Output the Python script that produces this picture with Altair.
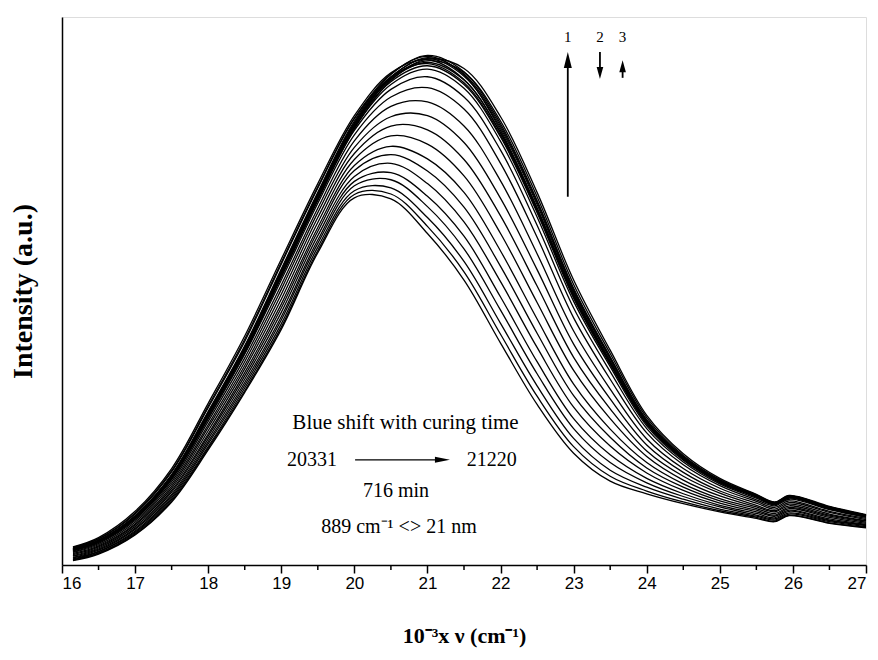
import altair as alt
import pandas as pd

# wavenumber grid (10^3 cm^-1)
x_grid = [16.15, 16.5, 17.0, 17.5, 18.0, 18.5, 19.0, 19.5, 20.0, 20.5, 21.0, 21.5,
          22.0, 22.5, 23.0, 23.5, 24.0, 24.5, 25.0, 25.5, 25.75, 25.95, 26.5, 27.0]

# emission spectra, early (low) -> late (high), intensity in a.u. (0-100)
s01 = [0.8, 2.0, 5.5, 11.5, 21.0, 31.5, 43.0, 57.0, 67.0, 66.8, 60.5, 52.0, 40.5, 29.3, 20.4, 15.3, 13.0, 11.2, 9.7, 8.5, 7.9, 9.0, 7.6, 6.8]
s02 = [0.9, 2.1, 5.6, 11.7, 21.3, 31.8, 43.4, 57.4, 67.6, 67.7, 61.8, 53.5, 42.1, 30.8, 21.6, 16.2, 13.5, 11.5, 9.9, 8.7, 8.0, 9.1, 7.7, 6.9]
s03 = [1.0, 2.2, 5.8, 12.0, 21.6, 32.3, 44.0, 58.0, 68.3, 68.8, 63.4, 55.4, 44.1, 32.7, 23.1, 17.3, 14.2, 12.0, 10.2, 8.9, 8.2, 9.3, 7.9, 7.0]
s04 = [1.1, 2.4, 6.0, 12.3, 22.1, 32.8, 44.7, 58.7, 69.2, 70.3, 65.4, 57.7, 46.5, 34.9, 24.9, 18.7, 15.0, 12.5, 10.6, 9.1, 8.4, 9.5, 8.1, 7.2]
s05 = [1.3, 2.5, 6.2, 12.6, 22.5, 33.3, 45.3, 59.3, 70.0, 71.6, 67.3, 60.0, 48.9, 37.1, 26.7, 20.1, 15.8, 13.0, 10.9, 9.4, 8.6, 9.8, 8.2, 7.3]
s06 = [1.4, 2.7, 6.5, 12.9, 23.0, 33.9, 46.1, 60.1, 70.9, 73.3, 69.6, 62.6, 51.7, 39.7, 28.8, 21.7, 16.8, 13.6, 11.3, 9.7, 8.9, 10.0, 8.4, 7.4]
s07 = [1.6, 2.9, 6.7, 13.3, 23.5, 34.5, 46.9, 60.9, 72.0, 74.9, 71.9, 65.3, 54.5, 42.3, 30.9, 23.3, 17.7, 14.2, 11.7, 10.0, 9.1, 10.3, 8.7, 7.6]
s08 = [1.7, 3.1, 7.0, 13.6, 23.9, 35.1, 47.6, 61.6, 72.9, 76.4, 74.1, 68.0, 57.3, 44.9, 33.0, 24.8, 18.7, 14.8, 12.1, 10.3, 9.4, 10.5, 8.9, 7.8]
s09 = [1.9, 3.3, 7.3, 14.0, 24.5, 35.8, 48.5, 62.5, 74.0, 78.3, 76.8, 71.0, 60.5, 47.9, 35.5, 26.7, 19.8, 15.5, 12.6, 10.6, 9.7, 10.8, 9.1, 8.0]
s10 = [2.1, 3.5, 7.5, 14.4, 25.1, 36.4, 49.4, 63.4, 75.1, 80.1, 79.4, 74.0, 63.7, 50.9, 37.9, 28.5, 20.8, 16.2, 13.1, 10.9, 9.9, 11.1, 9.3, 8.1]
s11 = [2.3, 3.7, 7.8, 14.8, 25.6, 37.1, 50.3, 64.3, 76.2, 81.8, 82.0, 77.1, 66.9, 53.9, 40.3, 30.3, 21.9, 16.9, 13.5, 11.3, 10.2, 11.4, 9.6, 8.3]
s12 = [2.4, 3.9, 8.1, 15.2, 26.2, 37.8, 51.1, 65.1, 77.4, 83.7, 84.5, 80.1, 70.1, 56.8, 42.7, 32.1, 23.0, 17.6, 14.0, 11.6, 10.5, 11.7, 9.8, 8.5]
s13 = [2.6, 4.1, 8.4, 15.6, 26.7, 38.5, 52.0, 66.0, 78.5, 85.4, 87.1, 83.2, 73.3, 59.8, 45.1, 33.9, 24.1, 18.3, 14.5, 11.9, 10.8, 12.0, 10.1, 8.7]
s14 = [2.7, 4.2, 8.6, 15.9, 27.2, 39.0, 52.7, 66.7, 79.3, 86.8, 89.1, 85.4, 75.7, 62.0, 46.9, 35.3, 24.9, 18.8, 14.8, 12.2, 11.0, 12.2, 10.2, 8.8]
s15 = [2.8, 4.3, 8.7, 16.1, 27.4, 39.3, 53.1, 67.1, 79.8, 87.7, 90.5, 87.0, 77.3, 63.5, 48.1, 36.2, 25.4, 19.1, 15.0, 12.4, 11.1, 12.3, 10.4, 8.9]
s16 = [2.9, 4.4, 8.8, 16.2, 27.6, 39.4, 53.3, 67.3, 80.1, 88.2, 91.1, 87.7, 78.1, 64.3, 48.7, 36.6, 25.7, 19.3, 15.2, 12.5, 11.2, 12.4, 10.4, 9.0]
s17 = [2.9, 4.4, 8.9, 16.3, 27.7, 39.6, 53.6, 67.6, 80.4, 88.6, 91.7, 88.5, 78.9, 65.0, 49.3, 37.1, 26.0, 19.5, 15.3, 12.5, 11.3, 12.5, 10.5, 9.0]
s18 = [3.0, 4.5, 8.9, 16.4, 27.9, 39.8, 53.8, 67.8, 80.7, 89.1, 92.4, 89.2, 79.7, 65.8, 49.9, 37.6, 26.2, 19.6, 15.4, 12.6, 11.3, 12.5, 10.5, 9.1]
s19 = [3.0, 4.5, 9.0, 16.5, 28.0, 40.0, 54.0, 68.0, 81.0, 89.5, 93.0, 90.0, 80.5, 66.5, 50.5, 38.0, 26.5, 19.8, 15.5, 12.7, 11.4, 12.6, 10.6, 9.1]
s20 = [2.8, 4.3, 8.8, 16.3, 27.5, 39.5, 53.4, 67.5, 80.5, 89.0, 92.6, 89.6, 80.1, 66.2, 50.2, 37.8, 26.4, 19.7, 15.4, 12.6, 11.3, 12.5, 10.5, 9.0]
s21 = [3.3, 5.0, 9.8, 17.6, 29.5, 41.8, 55.8, 69.6, 82.0, 89.8, 92.2, 88.6, 78.8, 64.8, 49.0, 36.8, 25.8, 19.4, 15.2, 12.5, 11.2, 12.4, 10.4, 9.0]
s22 = [2.6, 4.1, 8.4, 15.7, 26.8, 38.6, 52.5, 66.5, 79.6, 88.4, 92.3, 90.6, 81.8, 68.0, 52.0, 39.2, 27.3, 20.3, 15.8, 12.9, 11.5, 12.7, 10.7, 9.2]
s23 = [3.1, 4.7, 9.3, 17.0, 28.7, 40.8, 54.9, 68.8, 81.5, 89.6, 92.8, 89.4, 79.3, 65.2, 49.6, 37.2, 26.0, 19.5, 15.3, 12.6, 11.3, 12.5, 10.5, 9.1]
s24 = [2.7, 4.2, 8.6, 16.0, 27.2, 39.0, 53.0, 67.0, 80.0, 88.8, 92.0, 89.9, 81.0, 67.2, 51.2, 38.6, 26.9, 20.0, 15.6, 12.8, 11.4, 12.6, 10.6, 9.1]
s25 = [3.2, 4.8, 9.5, 17.2, 29.0, 41.2, 55.2, 69.0, 81.5, 89.0, 91.5, 88.0, 78.4, 64.6, 49.2, 37.0, 25.9, 19.4, 15.2, 12.5, 11.2, 12.4, 10.4, 9.0]

spectra = [s01, s02, s03, s04, s05, s06, s07, s08, s09, s10, s11, s12, s13,
           s14, s15, s16, s17, s18, s19, s20, s21, s22, s23, s24, s25]

major_ticks = [16, 17, 18, 19, 20, 21, 22, 23, 24, 25, 26, 27]
minor_ticks = [16.5, 17.5, 18.5, 19.5, 20.5, 21.5, 22.5, 23.5, 24.5, 25.5, 26.5]

# annotations
label_text = ["Blue shift with curing time", "20331", "21220", "716 min", "889 cm\u207b\u00b9 <> 21 nm"]
label_x = [20.7, 19.42, 21.88, 20.57, 20.61]
label_y = [25.9, 19.2, 19.2, 13.5, 6.9]
label_size = [21, 20, 20, 20, 20]

num_text = ["1", "2", "3"]
num_x = [22.92, 23.36, 23.67]
num_y = [96.4, 96.4, 96.4]

# vertical arrows: shafts and heads
shaft_x = [22.92, 23.36, 23.67]
shaft_y1 = [67.2, 93.6, 88.9]
shaft_y2 = [91.0, 90.5, 90.5]
head_x = [22.92, 23.36, 23.67]
head_y = [92.15, 89.8, 91.0]
head_shape = ["M0,-1L0.5,1L-0.5,1Z", "M0,1L0.55,-1L-0.55,-1Z", "M0,-1L0.55,1L-0.55,1Z"]
head_size = [256, 144, 144]

# horizontal arrow
harrow_x1 = [20.01]
harrow_x2 = [21.15]
harrow_y = [19.2]
harrow_head_x = [21.205]

rows = []
for i, s in enumerate(spectra):
    for xv, yv in zip(x_grid, s):
        rows.append({"x": xv, "y": yv, "curve": i})
df = pd.DataFrame(rows)

xs = alt.Scale(domain=[16, 27], nice=False, zero=False)
ys = alt.Scale(domain=[0, 100], nice=False, zero=False)

x_axis = alt.Axis(values=major_ticks, format="d", tickSize=8, tickWidth=1.5,
                  tickColor="black", domainColor="black", domainWidth=1.5,
                  labelFont="Liberation Sans", labelFontSize=17, labelColor="black",
                  labelPadding=2, grid=False,
                  title="10\u207b\u00b3x \u03bd (cm\u207b\u00b9)", titleFont="Liberation Serif",
                  titleFontSize=22, titleFontWeight="bold", titleColor="black",
                  titlePadding=34)
y_axis = alt.Axis(ticks=False, labels=False, grid=False, domainColor="black",
                  domainWidth=1.5, title="Intensity (a.u.)", titleFont="Liberation Serif",
                  titleFontSize=28, titleFontWeight="bold", titleColor="black",
                  titlePadding=25)

lines = alt.Chart(df).mark_line(color="black", strokeWidth=1.3, interpolate="catmull-rom").encode(
    x=alt.X("x:Q", scale=xs, axis=x_axis),
    y=alt.Y("y:Q", scale=ys, axis=y_axis),
    detail="curve:N",
)

minor = alt.Chart(pd.DataFrame({"x": minor_ticks})).mark_rule(color="black", strokeWidth=1.5).encode(
    x=alt.X("x:Q", scale=xs),
    y=alt.value(548),
    y2=alt.value(553),
)

lab_df = pd.DataFrame({"x": label_x, "y": label_y, "t": label_text, "fs": label_size})
labels = alt.Chart(lab_df).mark_text(font="Liberation Serif", color="black").encode(
    x=alt.X("x:Q", scale=xs), y=alt.Y("y:Q", scale=ys), text="t:N",
    size=alt.Size("fs:Q", scale=None, legend=None))

num_df = pd.DataFrame({"x": num_x, "y": num_y, "t": num_text})
nums = alt.Chart(num_df).mark_text(font="Liberation Serif", fontSize=15, color="black").encode(
    x=alt.X("x:Q", scale=xs), y=alt.Y("y:Q", scale=ys), text="t:N")

shaft_df = pd.DataFrame({"x": shaft_x, "y1": shaft_y1, "y2": shaft_y2})
shafts = alt.Chart(shaft_df).mark_rule(color="black", strokeWidth=1.8).encode(
    x=alt.X("x:Q", scale=xs), y=alt.Y("y1:Q", scale=ys), y2="y2:Q")

head_df = pd.DataFrame({"x": head_x, "y": head_y, "s": head_shape, "sz": head_size})
heads = alt.Chart(head_df).mark_point(filled=True, color="black", opacity=1, strokeWidth=0).encode(
    x=alt.X("x:Q", scale=xs), y=alt.Y("y:Q", scale=ys),
    shape=alt.Shape("s:N", scale=None, legend=None),
    size=alt.Size("sz:Q", scale=None, legend=None))

harrow_df = pd.DataFrame({"x1": harrow_x1, "x2": harrow_x2, "y": harrow_y})
harrow = alt.Chart(harrow_df).mark_rule(color="black", strokeWidth=1.3).encode(
    x=alt.X("x1:Q", scale=xs), x2="x2:Q", y=alt.Y("y:Q", scale=ys))
hhead = alt.Chart(pd.DataFrame({"x": harrow_head_x, "y": harrow_y})).mark_point(
    filled=True, color="black", shape="M1,0L-1,0.4L-1,-0.4Z", size=225, opacity=1,
    strokeWidth=0).encode(
    x=alt.X("x:Q", scale=xs), y=alt.Y("y:Q", scale=ys))

chart = alt.layer(lines, minor, labels, nums, shafts, heads, harrow, hhead).properties(
    width=804, height=548,
    autosize=alt.AutoSizeParams(type="none"),
    padding={"left": 54, "top": 9, "right": 4, "bottom": 95},
).configure_view(stroke="black", strokeWidth=1.5).configure(background="white")

chart.save("out.html", embed_options={"renderer": "svg", "actions": False})
